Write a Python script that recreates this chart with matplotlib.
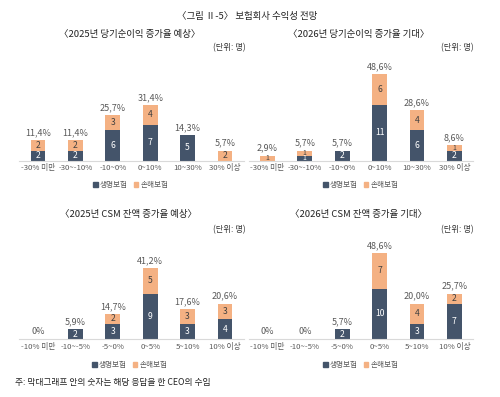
import matplotlib
matplotlib.use("Agg")
import matplotlib.pyplot as plt
from matplotlib.patches import Patch

plt.rcParams['font.family'] = ['Noto Sans CJK KR', 'DejaVu Sans']

fig_title = "〈그림 Ⅱ-5〉 보험회사 수익성 전망"
note = "주: 막대그래프 안의 숫자는 해당 응답을 한 CEO의 수임"
unit_text = "(단위: 명)"
series_names = ["생명보험", "손해보험"]

titles = ["〈2025년 당기순이익 증가율 예상〉", "〈2026년 당기순이익 증가율 기대〉",
          "〈2025년 CSM 잔액 증가율 예상〉", "〈2026년 CSM 잔액 증가율 기대〉"]

cats_profit = ["-30% 미만", "-30~-10%", "-10~0%", "0~10%", "10~30%", "30% 이상"]
cats_csm = ["-10% 미만", "-10~-5%", "-5~0%", "0~5%", "5~10%", "10% 이상"]

life_2025_profit = [2, 2, 6, 7, 5, 0]
nonlife_2025_profit = [2, 2, 3, 4, 0, 2]
pct_2025_profit = ["11,4%", "11,4%", "25,7%", "31,4%", "14,3%", "5,7%"]

life_2026_profit = [0, 1, 2, 11, 6, 2]
nonlife_2026_profit = [1, 1, 0, 6, 4, 1]
pct_2026_profit = ["2,9%", "5,7%", "5,7%", "48,6%", "28,6%", "8,6%"]

life_2025_csm = [0, 2, 3, 9, 3, 4]
nonlife_2025_csm = [0, 0, 2, 5, 3, 3]
pct_2025_csm = ["0%", "5,9%", "14,7%", "41,2%", "17,6%", "20,6%"]

life_2026_csm = [0, 0, 2, 10, 3, 7]
nonlife_2026_csm = [0, 0, 0, 7, 4, 2]
pct_2026_csm = ["0%", "0%", "5,7%", "48,6%", "20,0%", "25,7%"]

NAVY = "#44546A"
ORANGE = "#F4B183"
GRAY = "#595959"

W, H = 500, 397
fig = plt.figure(figsize=(W / 100, H / 100), dpi=100)

def ftext(x, y, s, **kw):
    fig.text(x / W, 1 - y / H, s, **kw)

ftext(247, 16.5, fig_title, ha='center', va='center', fontsize=6.8, color='#222222')

panels = [
    (19.3, 160.7, cats_profit, life_2025_profit, nonlife_2025_profit, pct_2025_profit, titles[0], 130, 35, 246, 48, 131, 185),
    (248.7, 160.7, cats_profit, life_2026_profit, nonlife_2026_profit, pct_2026_profit, titles[1], 359, 35, 474, 48, 361, 185),
    (19.3, 339.3, cats_csm, life_2025_csm, nonlife_2025_csm, pct_2025_csm, titles[2], 129, 215, 246, 230, 130, 365),
    (248.7, 339.3, cats_csm, life_2026_csm, nonlife_2026_csm, pct_2026_csm, titles[3], 359, 215, 474, 230, 361, 365),
]

PXU = 5.08
YTOP = 20
for (x0, base, cats, life, nonlife, pct, title, tx, ty, ux, uy, lx, ly) in panels:
    wpx = 224.4
    hpx = YTOP * PXU
    ax = fig.add_axes([x0 / W, (H - base) / H, wpx / W, hpx / H])
    xs = list(range(len(cats)))
    ax.bar(xs, life, width=0.4, color=NAVY, zorder=2)
    ax.bar(xs, nonlife, width=0.4, bottom=life, color=ORANGE, zorder=2)
    for i in xs:
        if life[i] > 0:
            fs = 6.2 if life[i] > 1 else 5
            ax.text(i, life[i] / 2, str(life[i]), ha='center', va='center',
                    fontsize=fs, color='white', zorder=3)
        if nonlife[i] > 0:
            fs = 6.2 if nonlife[i] > 1 else 5
            ax.text(i, life[i] + nonlife[i] / 2, str(nonlife[i]), ha='center', va='center',
                    fontsize=fs, color='#404040', zorder=3)
        ax.annotate(pct[i], (i, life[i] + nonlife[i]), xytext=(0, 5.4), textcoords='offset points',
                    ha='center', va='center', fontsize=6.5, color=GRAY)
    ax.set_xlim(-0.5, len(cats) - 0.5)
    ax.set_ylim(0, YTOP)
    ax.set_xticks(xs)
    ax.set_xticklabels(cats, fontsize=5.6, color=GRAY)
    ax.tick_params(axis='x', length=0, pad=2.5)
    ax.set_yticks([])
    for s in ['top', 'right', 'left']:
        ax.spines[s].set_visible(False)
    ax.spines['bottom'].set_color('#D9D9D9')
    ax.spines['bottom'].set_linewidth(0.8)
    ax.patch.set_alpha(0)
    ftext(tx, ty, title, ha='center', va='center', fontsize=6.8, color='#222222')
    ftext(ux, uy, unit_text, ha='right', va='center', fontsize=6, color='#333333')
    handles = [Patch(color=NAVY, label=series_names[0]), Patch(color=ORANGE, label=series_names[1])]
    ax.legend(handles=handles, loc='center', bbox_to_anchor=(lx / W, 1 - ly / H),
              bbox_transform=fig.transFigure, ncol=2, frameon=False, fontsize=5.5,
              handlelength=0.55, handleheight=0.55, handletextpad=0.3, columnspacing=0.8,
              labelcolor=GRAY)

ftext(15, 382.7, note, ha='left', va='center', fontsize=6.3, color='#222222')

fig.savefig("out.png", dpi=100)
